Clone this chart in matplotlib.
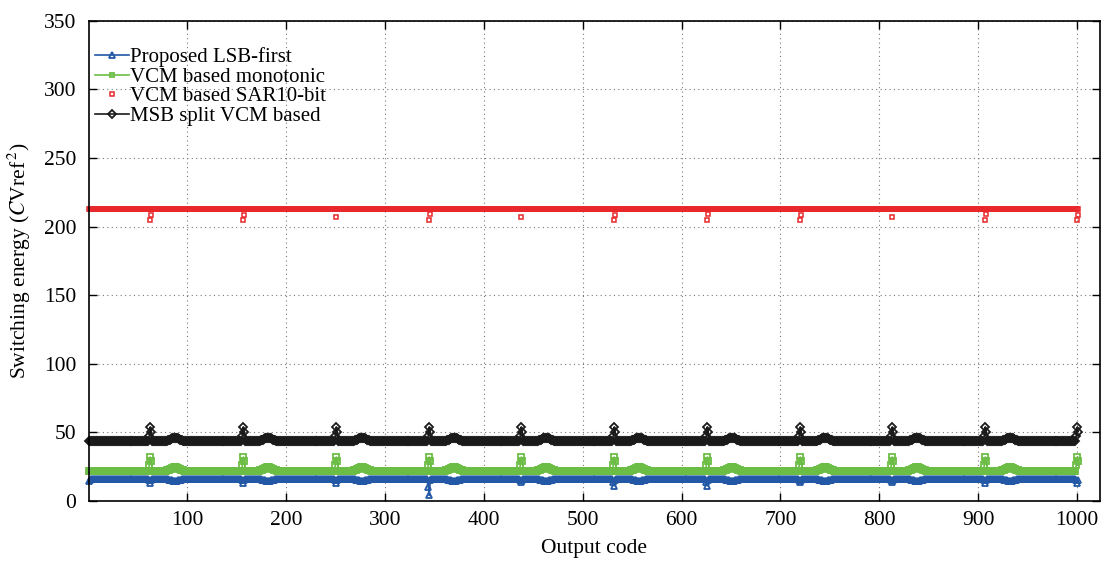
import matplotlib
matplotlib.use("Agg")
import matplotlib.pyplot as plt
import numpy as np

plt.rcParams["font.family"] = ["Liberation Serif", "DejaVu Serif"]
plt.rcParams["mathtext.fontset"] = "stix"

# data
codes = np.arange(1, 1002)

lsb_base = 16.0
mono_base = 22.0
sar_base = 212.5
msb_base = 43.5

# codes where every series shows a short glitch
spike_codes = [63, 157, 251, 345, 438, 532, 626, 720, 813, 907, 1000]
# codes where the smooth humps sit
bump_codes = [88, 182, 277, 370, 463, 557, 651, 745, 838, 932]

# hump shapes (offset from base), centred on each bump code
msb_bump = [0.1, 0.3, 0.6, 0.9, 1.3, 1.7, 2.1, 2.4, 2.6, 2.7, 2.6, 2.4, 2.1, 1.7,
            1.3, 0.9, 0.6, 0.3, 0.1]
mono_bump = [0.1, 0.3, 0.6, 0.9, 1.2, 1.6, 1.9, 2.2, 2.4, 2.5, 2.4, 2.2, 1.9, 1.6,
             1.2, 0.9, 0.6, 0.3, 0.1]
lsb_bump = [0.0, -0.1, -0.2, -0.4, -0.6, -0.8, -1.0, -1.1, -1.2, -1.3, -1.2, -1.1,
            -1.0, -0.8, -0.6, -0.4, -0.2, -0.1, 0.0]

# glitch values at code-1, code, code+1
msb_spike = [47.5, 54.0, 50.5]
mono_spike = [26.0, 32.0, 29.0]
lsb_spike_low = [13, 13, 13, 4, 13.5, 11, 11, 13.5, 13.5, 13, 13]
sar_spike_low = [205, 205, 207, 205, 207, 205, 205, 205, 207, 205, 205]
sar_spike_mid = [208.5, 208.5, None, 209, None, 208.5, 209, 208.5, None, 209, 208.5]


def build(base, bump, spike=None):
    y = np.full(len(codes), base)
    half = len(bump) // 2
    for b in bump_codes:
        for k, v in enumerate(bump):
            y[b - 1 - half + k] = base + v
    if spike is not None:
        for c in spike_codes:
            y[c - 2:c + 1] = spike
    return y


msb = build(msb_base, msb_bump, msb_spike)
mono = build(mono_base, mono_bump, mono_spike)
lsb = build(lsb_base, lsb_bump)
for c, v in zip(spike_codes, lsb_spike_low):
    lsb[c - 2:c + 1] = [(lsb_base + v) / 2 + 0.5, v, lsb_base - 1]
lsb[0:2] = [14.5, 15.3]
sar = np.full(len(codes), sar_base)

sar_x, sar_y = [], []
for c, lo, mid in zip(spike_codes, sar_spike_low, sar_spike_mid):
    sar_x.append(c)
    sar_y.append(lo)
    if mid is not None:
        sar_x.append(c + 1)
        sar_y.append(mid)

blue = "#2258a5"
green = "#6cbd45"
red = "#e8282b"
black = "#1a1a1a"

fig = plt.figure(figsize=(11.05, 5.61), dpi=100)
ax = fig.add_axes([0.0805, 0.107, 0.915, 0.856])

ax.plot(codes, lsb, color=blue, lw=1.2, marker="^", ms=5, mfc="none", mew=1.3,
        label="Proposed LSB-first", clip_on=False)
ax.plot(codes, mono, color=green, lw=1.2, marker="s", ms=4.3, mfc="none", mew=1.3,
        label="VCM based monotonic", clip_on=False)
ax.plot(np.concatenate([codes, sar_x]), np.concatenate([sar, sar_y]), ls="none",
        color=red, marker="s", ms=3.4, mfc="none", mew=1.1,
        label="VCM based SAR10-bit", clip_on=False)
ax.plot(codes, msb, color=black, lw=1.2, marker="D", ms=4.5, mfc="none", mew=1.3,
        label="MSB split VCM based", clip_on=False)

ax.set_xlim(1, 1023)
ax.set_ylim(0, 350)
ax.set_xticks(np.arange(100, 1001, 100))
ax.set_yticks(np.arange(0, 351, 50))
ax.tick_params(direction="in", length=6, width=1, top=True, right=True,
               labelsize=15.5)
ax.tick_params(axis="x", pad=7)
ax.tick_params(axis="y", pad=9)
ax.grid(True, ls=(0, (1, 3)), color="#777777", lw=0.8)
for s in ax.spines.values():
    s.set_linewidth(1.2)

ax.set_xlabel("Output code", fontsize=15.5, labelpad=7)
ax.set_ylabel(r"Switching energy ($C$Vref$^{\,2}$)", fontsize=15.5, labelpad=8)

leg = ax.legend(loc="upper left", bbox_to_anchor=(-0.008, 0.975), frameon=False,
                fontsize=15, labelspacing=0.0, handlelength=1.6,
                handletextpad=0.05, borderaxespad=0.3, markerscale=0.8)

fig.savefig("out.png", dpi=100)
